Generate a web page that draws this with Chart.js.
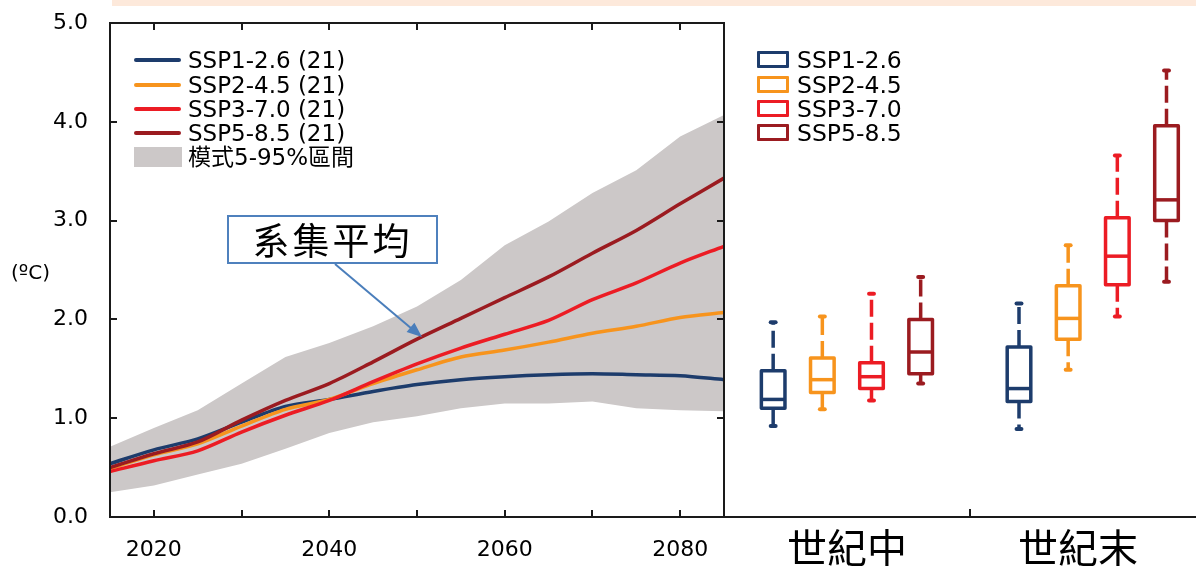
<!DOCTYPE html>
<html><head><meta charset="utf-8">
<script src="https://cdn.jsdelivr.net/npm/chart.js@4.4.0/dist/chart.umd.min.js"></script>
<style>
html,body{margin:0;padding:0;background:#fff;overflow:hidden;}
#wrap{position:relative;width:1196px;height:566px;overflow:hidden;}
canvas{position:absolute;left:0;top:0;}
.topbar{position:absolute;left:112px;top:0;width:1084px;height:6px;background:#fde9db;}
.txt{position:absolute;font-family:'DejaVu Sans','Noto Sans CJK TC',sans-serif;color:#000;white-space:nowrap;}
.lline{position:absolute;left:134px;width:47px;height:4px;border-radius:2px;}
.lbox{position:absolute;left:757px;width:26px;height:11px;border:3px solid;border-radius:1px;background:#fff;}
.callout{position:absolute;left:227px;top:215px;width:207px;height:45px;border:2px solid #4f81bd;background:#fff;
  font-family:'Noto Sans CJK TC',sans-serif;font-size:37px;line-height:45px;text-align:center;letter-spacing:3px;color:#000;}
svg{position:absolute;left:0;top:0;}
</style></head>
<body>
<div id="wrap">
  <div class="topbar"></div>
  <canvas id="cR" width="1196" height="566"></canvas>
  <canvas id="cL" width="1196" height="566"></canvas>
  <div id="overlay"></div>
</div>
<script>
// ---------------- data ----------------
const years = [2015,2020,2025,2030,2035,2040,2045,2050,2055,2060,2065,2070,2075,2080,2085];
const ssp126 = [0.54,0.68,0.79,0.96,1.12,1.19,1.27,1.34,1.39,1.42,1.44,1.45,1.44,1.43,1.39];
const ssp245 = [0.49,0.63,0.74,0.92,1.09,1.19,1.35,1.49,1.62,1.69,1.77,1.86,1.93,2.02,2.07];
const ssp370 = [0.46,0.57,0.67,0.86,1.03,1.18,1.37,1.55,1.71,1.85,1.99,2.20,2.37,2.57,2.74];
const ssp585 = [0.50,0.64,0.76,0.98,1.18,1.35,1.57,1.80,2.01,2.22,2.43,2.67,2.90,3.17,3.43];
const bandHigh = [0.71,0.90,1.08,1.35,1.62,1.76,1.93,2.13,2.40,2.75,2.99,3.28,3.51,3.85,4.07];
const bandLow  = [0.25,0.32,0.43,0.54,0.69,0.85,0.96,1.02,1.10,1.15,1.15,1.17,1.10,1.08,1.07];

const xTickYears = [2020,2030,2040,2050,2060,2070,2080];
const xLabelYears = [2020,2040,2060,2080];
const yTickValues = [0,1,2,3,4,5];

const scenarios = ['SSP1-2.6','SSP2-4.5','SSP3-7.0','SSP5-8.5'];
const members = ['(21)','(21)','(21)','(21)'];
const bandLabel = '模式5-95%區間';
const periods = ['世紀中','世紀末'];
// box-plot statistics: mid-century (4 scenarios) then end-of-century (4 scenarios)
const boxLow  = [0.92,1.09,1.18,1.35, 0.89,1.49,2.03,2.38];
const boxQ1   = [1.10,1.26,1.30,1.45, 1.17,1.80,2.35,3.00];
const boxMed  = [1.19,1.39,1.42,1.67, 1.30,2.01,2.64,3.21];
const boxQ3   = [1.48,1.61,1.56,2.00, 1.72,2.34,3.03,3.96];
const boxHigh = [1.97,2.03,2.26,2.43, 2.16,2.75,3.66,4.52];

// ---------------- styles ----------------
const colors = ['#1d3c6c','#f7941d','#ec1c24','#9b1b20'];
const bandColor = '#ccc8c8';
const tickFont = {family:"'DejaVu Sans', sans-serif", size:22};

// ---------------- left chart ----------------
const toXY = arr => arr.map((v,i)=>({x:years[i], y:v}));
const seriesList = [ssp126, ssp245, ssp370, ssp585];
const lineOrder = [4,3,2,1];

const framePlugin = {
  id:'frame',
  afterDatasetsDraw(chart){
    const {ctx, chartArea:a, scales:{x,y}} = chart;
    ctx.save();
    ctx.strokeStyle = '#1a1a1a'; ctx.lineWidth = 2;
    ctx.strokeRect(a.left, a.top, a.right-a.left, a.bottom-a.top);
    ctx.beginPath();
    x.ticks.forEach(t=>{
      const px = Math.round(x.getPixelForValue(t.value));
      ctx.moveTo(px, a.bottom); ctx.lineTo(px, a.bottom-7);
      ctx.moveTo(px, a.top); ctx.lineTo(px, a.top+7);
    });
    y.ticks.forEach(t=>{
      if (t.value <= y.min || t.value >= y.max) return;
      const py = Math.round(y.getPixelForValue(t.value));
      ctx.moveTo(a.left, py); ctx.lineTo(a.left+7, py);
      ctx.moveTo(a.right, py); ctx.lineTo(a.right-7, py);
    });
    ctx.stroke();
    ctx.restore();
  }
};

new Chart(document.getElementById('cL'), {
  type:'line',
  data:{datasets:[
    {label:'high', data:toXY(bandHigh), borderWidth:0, borderColor:'rgba(0,0,0,0)', pointRadius:0,
     fill:'+1', backgroundColor:bandColor, order:10},
    {label:'low', data:toXY(bandLow), borderWidth:0, borderColor:'rgba(0,0,0,0)', pointRadius:0,
     fill:false, order:11},
    ...seriesList.map((s,i)=>({label:scenarios[i], data:toXY(s), borderColor:colors[i], borderWidth:3.5,
      pointRadius:0, fill:false, tension:0.3, order:lineOrder[i], borderCapStyle:'round', borderJoinStyle:'round'}))
  ]},
  options:{
    responsive:false, animation:false,
    layout:{padding:{top:23, right:472, left:0, bottom:0}},
    plugins:{legend:{display:false}, tooltip:{enabled:false}},
    scales:{
      x:{type:'linear', min:years[0], max:years[years.length-1],
         afterBuildTicks:s=>{ s.ticks = xTickYears.map(v=>({value:v})); },
         afterFit:s=>{ s.height = 49; s.paddingLeft = 0; s.paddingRight = 0; },
         ticks:{callback:v=> xLabelYears.includes(v) ? String(v) : '', font:tickFont, color:'#000',
                padding:20, maxRotation:0, autoSkip:false},
         grid:{display:false, drawTicks:false}, border:{display:false}},
      y:{min:0, max:5,
         afterBuildTicks:s=>{ s.ticks = yTickValues.map(v=>({value:v})); },
         afterFit:s=>{ s.width = 110; s.paddingTop = 0; s.paddingBottom = 0; },
         ticks:{callback:v=>Number(v).toFixed(1), font:tickFont, color:'#000', padding:22},
         grid:{display:false, drawTicks:false}, border:{display:false}}
    }
  },
  plugins:[framePlugin]
});

// ---------------- right chart (box plots) ----------------
const halfW = 0.048, capW = 0.01;
const boxDatasets = [];
boxMed.forEach((m,i)=>{
  const p = Math.floor(i/4), s = i%4;
  const xc = p + (s+1)*0.2;
  const c = colors[s];
  const base = {showLine:true, pointRadius:0, borderColor:c, fill:false, tension:0};
  boxDatasets.push({...base, borderWidth:3.5, borderJoinStyle:'round',
    data:[{x:xc-halfW,y:boxQ1[i]},{x:xc+halfW,y:boxQ1[i]},{x:xc+halfW,y:boxQ3[i]},{x:xc-halfW,y:boxQ3[i]},{x:xc-halfW,y:boxQ1[i]}]});
  boxDatasets.push({...base, borderWidth:3.5, data:[{x:xc-halfW,y:m},{x:xc+halfW,y:m}]});
  boxDatasets.push({...base, borderWidth:3.5, borderDash:[17,6], data:[{x:xc,y:boxQ3[i]},{x:xc,y:boxHigh[i]}]});
  boxDatasets.push({...base, borderWidth:3.5, borderDash:[17,6], data:[{x:xc,y:boxQ1[i]},{x:xc,y:boxLow[i]}]});
  boxDatasets.push({...base, borderWidth:4, borderCapStyle:'round', data:[{x:xc-capW,y:boxHigh[i]},{x:xc+capW,y:boxHigh[i]}]});
  boxDatasets.push({...base, borderWidth:4, borderCapStyle:'round', data:[{x:xc-capW,y:boxLow[i]},{x:xc+capW,y:boxLow[i]}]});
});

const periodTickPlugin = {
  id:'periodTick',
  afterDraw(chart){
    const {ctx, chartArea:a, scales:{x}} = chart;
    const px = Math.round(x.getPixelForValue(1));
    ctx.save(); ctx.strokeStyle='#1a1a1a'; ctx.lineWidth=2;
    ctx.beginPath(); ctx.moveTo(px, a.bottom); ctx.lineTo(px, a.bottom-8); ctx.stroke();
    ctx.restore();
  }
};

const periodLabelPos = [0.5, 1.44];
new Chart(document.getElementById('cR'), {
  type:'scatter',
  data:{datasets:boxDatasets},
  options:{
    responsive:false, animation:false,
    layout:{padding:{top:23, left:724, right:0, bottom:0}},
    plugins:{legend:{display:false}, tooltip:{enabled:false}},
    scales:{
      x:{type:'linear', min:0, max:1.92,
         afterBuildTicks:s=>{ s.ticks = periodLabelPos.map(v=>({value:v})); },
         afterFit:s=>{ s.height = 49; s.paddingLeft = 0; s.paddingRight = 0; },
         ticks:{callback:(v,i)=>periods[i], font:{family:"'Noto Sans CJK TC', sans-serif", size:40}, color:'#000',
                padding:7, maxRotation:0, autoSkip:false},
         grid:{display:false, drawTicks:false}, border:{display:true, color:'#1a1a1a', width:2}},
      y:{display:false, min:0, max:5}
    }
  },
  plugins:[periodTickPlugin]
});

// ---------------- legends & annotations (real text) ----------------
const ov = document.getElementById('overlay');
let html = '';
const rowY = [60, 85, 109, 133];
scenarios.forEach((s,i)=>{
  html += `<div class="lline" style="top:${rowY[i]-2}px;background:${colors[i]}"></div>`;
  html += `<div class="txt" style="left:188px;top:${rowY[i]-14}px;font-size:23px;line-height:28px;">${s} ${members[i]}</div>`;
  html += `<div class="lbox" style="top:${rowY[i]-9}px;border-color:${colors[i]}"></div>`;
  html += `<div class="txt" style="left:797px;top:${rowY[i]-14}px;font-size:23.5px;line-height:28px;">${s}</div>`;
});
html += `<div style="position:absolute;left:134px;top:147px;width:48px;height:20px;background:${bandColor}"></div>`;
html += `<div class="txt" style="left:188px;top:143px;font-size:23px;line-height:28px;">${bandLabel}</div>`;
html += `<div class="txt" style="left:11px;top:259px;font-size:20px;line-height:26px;">(ºC)</div>`;
html += `<div class="callout">系集平均</div>`;
html += `<svg width="1196" height="566"><line x1="335" y1="264" x2="412" y2="329" stroke="#4a7ebb" stroke-width="2"/>
<polygon points="422,337 406.6,332 414.4,322.8" fill="#4a7ebb"/></svg>`;
ov.innerHTML = html;
</script>
</body></html>
